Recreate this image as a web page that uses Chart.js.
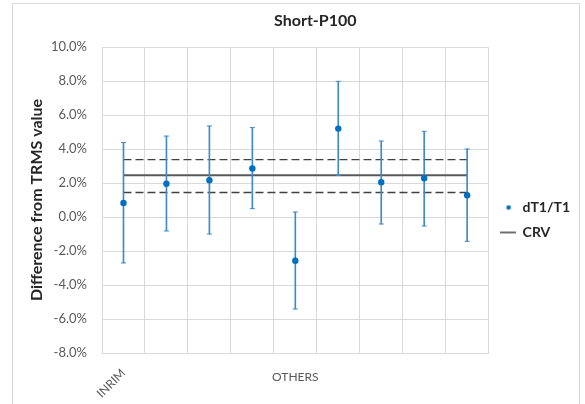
<!DOCTYPE html>
<html>
<head>
<meta charset="utf-8">
<script src="https://cdn.jsdelivr.net/npm/chart.js@4.4.1/dist/chart.umd.min.js"></script>
<style>
    html, body { margin: 0; padding: 0; background: #ffffff; width: 585px; height: 404px; overflow: hidden; }
    #frame { position: absolute; left: 12px; top: 3px; width: 566px; height: 420px; border: 1px solid #d9d9d9; }
    #chart { position: absolute; left: 0; top: 0; }
</style>
</head>
<body>
<div id="frame"></div>
<canvas id="chart" width="585" height="404"></canvas>
<script>
// Chart values
var chartTitle = "Short-P100";
var categories = ["INRIM", "", "", "", "", "", "", "", ""];
var dT1 = [0.82, 1.96, 2.16, 2.85, -2.57, 5.20, 2.04, 2.28, 1.28];
var errHigh = [4.38, 4.76, 5.35, 5.26, 0.29, 7.98, 4.47, 5.04, 4.00];
var errLow = [-2.70, -0.82, -1.00, 0.49, -5.41, 2.45, -0.41, -0.53, -1.43];
var crvValues = [2.45, 2.45, 2.45, 2.45, 2.45, 2.45, 2.45, 2.45, 2.45];
var crvUpper = [3.38, 3.38, 3.38, 3.38, 3.38, 3.38, 3.38, 3.38, 3.38];
var crvLower = [1.44, 1.44, 1.44, 1.44, 1.44, 1.44, 1.44, 1.44, 1.44];
var yMin = -8;
var yMax = 10;
var yStep = 2;

var pointBlue = "#0070c0";
var barBlue = "#3f8bca";
var gridGray = "#d9d9d9";
var labelGray = "#595959";
var darkText = "#262626";

/**
 * Makes a small canvas used as a legend marker.
 * @param kind "dot" or "line"
 */
function legend_mark(kind) {
    const c = document.createElement("canvas");
    c.width = 16;
    c.height = 8;
    const g = c.getContext("2d");
    if (kind === "dot") {
        g.fillStyle = pointBlue;
        g.beginPath();
        g.arc(9, 4, 2.3, 0, Math.PI * 2);
        g.fill();
    } else {
        g.strokeStyle = "#404040";
        g.lineWidth = 1.5;
        g.beginPath();
        g.moveTo(0, 4);
        g.lineTo(16, 4);
        g.stroke();
    }
    return c;
}

var legendMarks = { "dT1/T1": legend_mark("dot"), "CRV": legend_mark("line") };

// Title placed a little right of the plot centre, as in the original
var titlePlugin = {
    id: "offsetTitle",
    afterDraw(chart) {
        const ctx = chart.ctx;
        const area = chart.chartArea;
        ctx.save();
        ctx.font = "bold 16px Lato";
        ctx.fillStyle = darkText;
        ctx.textAlign = "center";
        ctx.textBaseline = "middle";
        ctx.fillText(chartTitle, (area.left + area.right) / 2 + 20, 21);
        ctx.restore();
    }
};

// Error bars as thin floating bars
var errRanges = [];
for (let i = 0; i < categories.length; i++) {
    errRanges.push([errLow[i], errHigh[i]]);
}

new Chart(document.getElementById("chart"), {
    type: "bar",
    data: {
        labels: categories,
        datasets: [
            {
                type: "line",
                label: "dT1/T1",
                data: dT1,
                showLine: false,
                pointRadius: 3.2,
                pointBackgroundColor: pointBlue,
                pointBorderWidth: 0,
                order: 0
            },
            {
                type: "line",
                label: "capHigh",
                data: errHigh,
                showLine: false,
                pointStyle: "line",
                pointRadius: 2.5,
                pointBorderColor: barBlue,
                pointBorderWidth: 1,
                order: 1
            },
            {
                type: "line",
                label: "capLow",
                data: errLow,
                showLine: false,
                pointStyle: "line",
                pointRadius: 2.5,
                pointBorderColor: barBlue,
                pointBorderWidth: 1,
                order: 1
            },
            {
                type: "bar",
                label: "errorBar",
                data: errRanges,
                backgroundColor: barBlue,
                barThickness: 1,
                borderWidth: 0,
                order: 2
            },
            {
                type: "line",
                label: "CRV",
                data: crvValues,
                borderColor: "#595959",
                borderWidth: 2,
                pointRadius: 0,
                order: 3
            },
            {
                type: "line",
                label: "crvUpper",
                data: crvUpper,
                borderColor: "#404040",
                borderWidth: 1.3,
                borderDash: [8, 4],
                pointRadius: 0,
                order: 3
            },
            {
                type: "line",
                label: "crvLower",
                data: crvLower,
                borderColor: "#404040",
                borderWidth: 1.3,
                borderDash: [8, 4],
                pointRadius: 0,
                order: 3
            }
        ]
    },
    options: {
        responsive: false,
        animation: false,
        layout: { padding: { left: 14, right: 5, top: 36, bottom: 0 } },
        plugins: {
            tooltip: { enabled: false },
            title: { display: false },
            legend: {
                position: "right",
                labels: {
                    usePointStyle: true,
                    pointStyleWidth: 16,
                    color: darkText,
                    font: { family: "Lato", size: 14, weight: "bold" },
                    padding: 11,
                    generateLabels: function (chart) {
                        const items = Chart.defaults.plugins.legend.labels.generateLabels(chart);
                        return items.filter(function (item) {
                            return legendMarks[item.text];
                        }).map(function (item) {
                            item.pointStyle = legendMarks[item.text];
                            return item;
                        });
                    }
                }
            }
        },
        scales: {
            x: {
                offset: true,
                grid: { offset: true, color: gridGray, drawTicks: false },
                border: { color: gridGray },
                ticks: {
                    autoSkip: false,
                    minRotation: 45,
                    maxRotation: 45,
                    padding: 13,
                    color: labelGray,
                    font: { family: "Lato", size: 12 }
                },
                title: {
                    display: true,
                    text: "OTHERS",
                    color: labelGray,
                    font: { family: "Lato", size: 12 },
                    padding: { top: 0, bottom: 20 }
                },
                afterFit: function (scale) { scale.height = 51; }
            },
            y: {
                min: yMin,
                max: yMax,
                grid: { color: gridGray, drawTicks: false },
                border: { color: gridGray },
                ticks: {
                    stepSize: yStep,
                    padding: 15,
                    color: labelGray,
                    font: { family: "Lato", size: 13 },
                    callback: function (v) { return v.toFixed(1) + "%"; }
                },
                title: {
                    display: true,
                    text: "Difference from TRMS value",
                    color: darkText,
                    font: { family: "Lato", size: 16, weight: "bold" },
                    padding: { top: 13, bottom: 0 }
                },
                // fixed axis width, and room above the plot for the title
                afterFit: function (scale) {
                    scale.width = 88;
                    scale.paddingTop = 47;
                }
            }
        }
    },
    plugins: [titlePlugin]
});
</script>
</body>
</html>
